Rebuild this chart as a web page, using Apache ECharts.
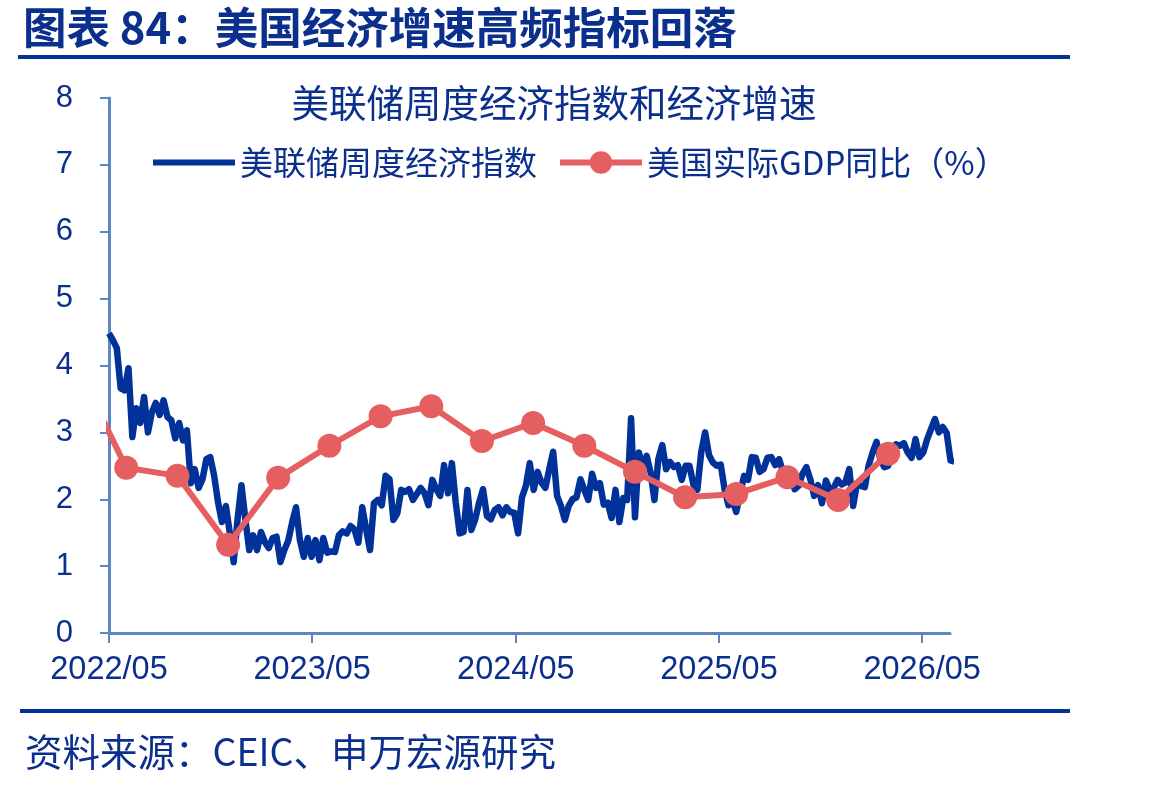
<!DOCTYPE html>
<html>
<head>
<meta charset="utf-8">
<script src="https://cdn.jsdelivr.net/npm/echarts@6/dist/echarts.min.js"></script>
<style>
  html, body { margin: 0; padding: 0; background: #fff; }
  #chart { width: 1170px; height: 787px; }
</style>
</head>
<body>
<div id="chart"></div>
<script>
// 美联储周度经济指数（WEI），每周一个值，从 weekStart 起
const weekStart = '2022-05-01';
const weeklyIndex = [
  4.48, 4.38, 4.26, 3.66, 3.63, 3.96, 2.93, 3.36, 3.14, 3.53,
  3.00, 3.30, 3.44, 3.26, 3.48, 3.23, 3.18, 2.91, 3.14, 2.88,
  3.03, 2.24, 2.45, 2.17, 2.30, 2.60, 2.63, 2.35, 1.95, 1.66,
  1.90, 1.50, 1.06, 1.70, 2.21, 1.70, 1.24, 1.46, 1.24, 1.51,
  1.36, 1.27, 1.42, 1.44, 1.06, 1.24, 1.38, 1.65, 1.88, 1.39,
  1.14, 1.42, 1.14, 1.39, 1.09, 1.42, 1.20, 1.22, 1.21, 1.46,
  1.52, 1.49, 1.60, 1.55, 1.35, 1.88, 1.55, 1.24, 1.94, 1.99,
  1.91, 2.35, 2.30, 1.69, 1.79, 2.14, 2.11, 2.15, 1.99, 2.08,
  2.17, 2.09, 1.91, 2.29, 2.15, 2.05, 2.51, 2.09, 2.54, 1.95,
  1.49, 1.51, 2.14, 1.54, 1.70, 1.95, 2.15, 1.75, 1.70, 1.84,
  1.88, 1.76, 1.88, 1.81, 1.80, 1.49, 2.03, 2.20, 2.54, 2.14,
  2.41, 2.25, 2.17, 2.45, 2.71, 2.05, 1.90, 1.69, 1.90, 2.00,
  2.03, 2.30, 2.14, 1.99, 2.38, 2.17, 2.24, 1.92, 1.95, 1.72,
  2.14, 1.66, 2.02, 1.99, 3.21, 1.73, 2.70, 2.48, 2.65, 2.40,
  1.99, 2.60, 2.81, 2.45, 2.56, 2.48, 2.51, 2.29, 2.50, 2.50,
  2.22, 2.14, 2.70, 3.00, 2.66, 2.55, 2.50, 2.52, 2.15, 1.91,
  1.99, 1.81, 2.09, 2.35, 2.29, 2.63, 2.62, 2.41, 2.45, 2.62,
  2.63, 2.51, 2.60, 2.41, 2.36, 2.30, 2.15, 2.20, 2.38, 2.48,
  2.30, 2.05, 2.21, 1.94, 2.28, 2.14, 2.17, 2.29, 2.22, 2.25,
  2.45, 1.90, 2.24, 2.20, 2.18, 2.51, 2.70, 2.86, 2.59, 2.48,
  2.50, 2.75, 2.82, 2.80, 2.84, 2.70, 2.62, 2.90, 2.63, 2.70,
  2.90, 3.05, 3.20, 3.00, 3.08, 2.99, 2.58, 2.56
];

// 美国实际GDP同比（%），季度
const gdpDates = [
  '2022-03-01', '2022-06-01', '2022-09-01', '2022-12-01',
  '2023-03-01', '2023-06-01', '2023-09-01', '2023-12-01',
  '2024-03-01', '2024-06-01', '2024-09-01', '2024-12-01',
  '2025-03-01', '2025-06-01', '2025-09-01', '2025-12-01',
  '2026-03-01'
];
const gdpValues = [
  4.05, 2.47, 2.35, 1.32,
  2.32, 2.80, 3.24, 3.39,
  2.87, 3.14, 2.80, 2.41,
  2.03, 2.08, 2.33, 1.99,
  2.68
];

// 横轴刻度
const tickDates = ['2022-05-01', '2023-05-01', '2024-05-01', '2025-05-01', '2026-05-01'];
const tickLabels = ['2022/05', '2023/05', '2024/05', '2025/05', '2026/05'];
const axisStart = '2022-05-01';
const axisEnd = '2026-06-20';

const DAY = 24 * 3600 * 1000;
const ts = s => Date.parse(s + 'T00:00:00Z');
const t0 = ts(weekStart);
const weeklyData = weeklyIndex.map((v, i) => [t0 + i * 7 * DAY, v]);
const gdpData = gdpValues.map((v, i) => [ts(gdpDates[i]), v]);
const tickValues = tickDates.map(ts);

const textBlue = '#0b2f8c';
const lineBlue = '#00329a';
const red = '#e65f60';
const axisColor = '#5b87c5';
const fontLatin = '"Liberation Sans", Arial, "Noto Sans CJK SC", sans-serif';
const fontCJK = '"Noto Sans CJK SC", "Liberation Sans", sans-serif';

const chart = echarts.init(document.getElementById('chart'));

const option = {
  backgroundColor: '#fff',
  animation: false,
  title: [
    {
      text: '图表 84：美国经济增速高频指标回落',
      left: 18,
      top: 1,
      textStyle: { color: textBlue, fontSize: 43.5, fontWeight: 'bold', fontFamily: fontCJK }
    },
    {
      text: '美联储周度经济指数和经济增速',
      left: 549,
      top: 79,
      textAlign: 'center',
      textStyle: { color: textBlue, fontSize: 37.5, fontWeight: 'normal', fontFamily: fontCJK }
    },
    {
      text: '资料来源：CEIC、申万宏源研究',
      left: 20,
      top: 728,
      textStyle: { color: textBlue, fontSize: 37.5, fontWeight: 'normal', fontFamily: fontCJK }
    }
  ],
  graphic: [
    { type: 'rect', shape: { x: 18, y: 55, width: 1052, height: 4 }, style: { fill: lineBlue } },
    { type: 'rect', shape: { x: 20, y: 709, width: 1050, height: 4 }, style: { fill: lineBlue } }
  ],
  legend: {
    left: 148,
    top: 141,
    itemWidth: 82,
    itemHeight: 28,
    itemGap: 20,
    lineStyle: { width: 6 },
    textStyle: { color: textBlue, fontSize: 33, fontFamily: fontCJK },
    data: [
      { name: '美联储周度经济指数', icon: 'path://M0,0H82V6H0Z' },
      { name: '美国实际GDP同比（%）' }
    ]
  },
  grid: { left: 109, right: 220, top: 98, bottom: 154, containLabel: false },
  xAxis: {
    type: 'value',
    min: ts(axisStart),
    max: ts(axisEnd),
    splitLine: { show: false },
    axisLine: { show: true, lineStyle: { color: axisColor, width: 3 } },
    axisTick: { show: true, customValues: tickValues, length: 10, lineStyle: { color: axisColor, width: 2 } },
    axisLabel: {
      customValues: tickValues,
      margin: 21,
      color: textBlue,
      fontSize: 32.5,
      fontFamily: fontLatin,
      formatter: v => {
        const k = tickValues.indexOf(v);
        return k >= 0 ? tickLabels[k] : '';
      }
    }
  },
  yAxis: {
    type: 'value',
    min: 0,
    max: 8,
    interval: 1,
    splitLine: { show: false },
    axisLine: { show: true, lineStyle: { color: axisColor, width: 3 } },
    axisTick: { show: true, length: 9, lineStyle: { color: axisColor, width: 2 } },
    axisLabel: { margin: 36, color: textBlue, fontSize: 31, fontFamily: fontLatin }
  },
  series: [
    {
      name: '美联储周度经济指数',
      type: 'line',
      data: weeklyData,
      showSymbol: false,
      symbol: 'none',
      clip: false,
      lineStyle: { color: lineBlue, width: 6.5, join: 'round' },
      itemStyle: { color: lineBlue },
      z: 2
    },
    {
      name: '美国实际GDP同比（%）',
      type: 'line',
      data: gdpData,
      symbol: 'circle',
      symbolSize: 24,
      clip: true,
      lineStyle: { color: red, width: 6 },
      itemStyle: { color: red },
      z: 3
    }
  ]
};

chart.setOption(option);
</script>
</body>
</html>
